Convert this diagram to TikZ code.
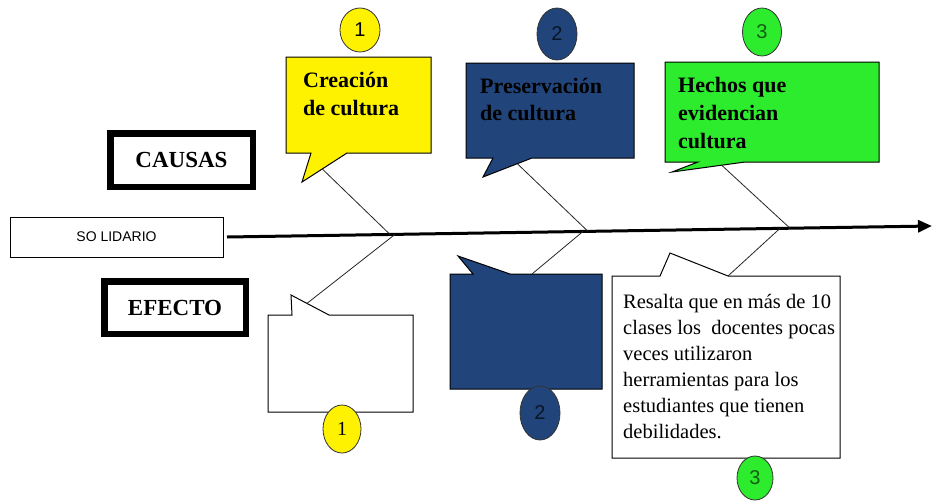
\documentclass[tikz,border=0pt]{standalone}
\usepackage{fontspec}
\setmainfont{Liberation Serif}
\newfontfamily\sansf{Liberation Sans}
\usetikzlibrary{shapes.geometric,arrows.meta,calc}
\definecolor{navy}{RGB}{33,69,122}
\definecolor{lime}{RGB}{45,235,45}
\newcommand\mylines[1]{\vtop{\halign{##\hfil\cr#1\crcr}}}
\begin{document}
\begin{tikzpicture}[x=1pt,y=-1pt,
  callout/.style={draw=black, line width=1pt, line join=miter},
  num/.style={ellipse, draw=black!80, line width=0.8pt, inner sep=0pt, font=\sansf\fontsize{20}{20}\selectfont},
  thickbox/.style={draw, line width=6.5pt, fill=white, inner sep=0pt, font=\bfseries\fontsize{23}{23}\selectfont},
  conn/.style={draw=black!85, line width=0.8pt},
  head/.style={anchor=base west, inner sep=0pt, font=\bfseries\fontsize{22}{28}\selectfont},
  body/.style={anchor=base west, inner sep=0pt, font=\fontsize{20.5}{26}\selectfont}
]
\fill[white] (0,0) rectangle (933,501);
\useasboundingbox (0,0) rectangle (933,501);

% left labels
\node[thickbox, minimum width=142.5pt, minimum height=53.5pt] (causas) at (181.5,160) {CAUSAS};
\node[thickbox, minimum width=141.5pt, minimum height=52.5pt] (efecto) at (175,307.5) {EFECTO};
\node[draw, line width=1pt, minimum width=213pt, minimum height=40pt, inner sep=0pt,
      font=\sansf\fontsize{14}{14}\selectfont] (sol) at (116.5,237) {SO LIDARIO};

% spine
\coordinate (s0) at (227,237);
\coordinate (end) at (932,226);
\draw[line width=3pt, -{Triangle[length=14pt,width=12pt]}] (s0) -- (end);
\coordinate (j1) at (390,234.45);
\coordinate (j2) at (588,231.36);
\coordinate (j3) at (790,228.2);
\coordinate (k1) at (395,234.37);
\coordinate (k2) at (583,231.44);
\coordinate (k3) at (780,228.36);

% top callouts
\draw[callout, fill=yellow] (286,57) -- (431,57) -- (431,153) -- (347,153) coordinate (y1b)
  -- (302,182) coordinate (y1t) -- (311,153) -- (286,153) -- cycle;
\node[head] (t1) at (303,87) {\mylines{Creación\cr de cultura}};

\draw[callout, fill=navy] (466,63) -- (634,63) -- (634,158) -- (532,158) coordinate (b1b)
  -- (483,177) coordinate (b1t) -- (493,158) -- (466,158) -- cycle;
\node[head, font=\bfseries\fontsize{22}{27}\selectfont] (t2) at (480,93) {\mylines{Preservación\cr de cultura}};

\draw[callout, fill=lime] (665,62) -- (879,62) -- (879,162) -- (745,162) coordinate (g1b)
  -- (672,172) coordinate (g1t) -- (698,162) -- (665,162) -- cycle;
\node[head] (t3) at (678,92) {\mylines{Hechos que\cr evidencian\cr cultura}};

% bottom callouts
\draw[callout, fill=white] (268,315) -- (292,315) -- (291,295) coordinate (w1t)
  -- (329,315) coordinate (w1b) -- (413,315) -- (413,412) -- (268,412) -- cycle;

\draw[callout, fill=navy] (450,274) -- (473,274) -- (458,256) -- (510,274)
  -- (532,274) coordinate (b2c) -- (602,274) -- (602,389) -- (450,389) -- cycle;

\draw[callout, fill=white] (612,276) -- (660,276) -- (670,253) -- (728,276) coordinate (w3b)
  -- (840,276) -- (840,458) -- (612,458) -- cycle;
\node[body] (t6) at (623,308) {\mylines{Resalta que en más de 10\cr
  clases los \ docentes pocas\cr veces utilizaron\cr herramientas para los\cr
  estudiantes que tienen\cr debilidades.}};

% connectors
\draw[conn] ($(y1b)!0.55!(y1t)$) coordinate (y1c) -- (j1);
\draw[conn] ($(b1b)!0.3!(b1t)$) coordinate (b1c) -- (j2);
\draw[conn] ($(g1b)!0.32!(g1t)$) coordinate (g1c) -- (j3);
\draw[conn] ($(w1t)!0.42!(w1b)$) coordinate (w1c) -- (k1);
\draw[conn] (b2c) -- (k2);
\draw[conn] (w3b) -- (k3);

% number ellipses
\node[num, fill=yellow, minimum width=40pt, minimum height=44pt] (c1t) at (360,30) {1};
\node[num, fill=navy, text=black!70!navy, minimum width=40pt, minimum height=52pt] (c2t) at (557,34) {2};
\node[num, fill=lime, text=black!60!lime, minimum width=39pt, minimum height=48pt] (c3t) at (762,32) {3};
\node[num, fill=yellow, minimum width=38pt, minimum height=48pt, font=\fontsize{20}{20}\selectfont] (c1b) at (342,429) {1};
\node[num, fill=navy, text=black!70!navy, minimum width=40pt, minimum height=54pt] (c2b) at (540,413) {2};
\node[num, fill=lime, text=black!60!lime, minimum width=36pt, minimum height=44pt] (c3b) at (755,478) {3};
\end{tikzpicture}
\end{document}
